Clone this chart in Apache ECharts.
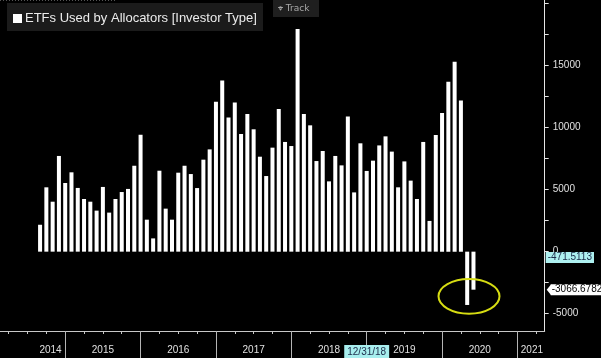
<!DOCTYPE html>
<html><head><meta charset="utf-8">
<script src="https://cdn.jsdelivr.net/npm/echarts@6/dist/echarts.min.js"></script>
<style>html,body{margin:0;padding:0;background:#000;}#c{width:601px;height:358px;}</style>
</head><body><div id="c"></div>
<script>
// ---- data (monthly, plotted at month end) ----
const months = [
 '2014-08','2014-09','2014-10','2014-11','2014-12',
 '2015-01','2015-02','2015-03','2015-04','2015-05','2015-06','2015-07','2015-08','2015-09','2015-10','2015-11','2015-12',
 '2016-01','2016-02','2016-03','2016-04','2016-05','2016-06','2016-07','2016-08','2016-09','2016-10','2016-11','2016-12',
 '2017-01','2017-02','2017-03','2017-04','2017-05','2017-06','2017-07','2017-08','2017-09','2017-10','2017-11','2017-12',
 '2018-01','2018-02','2018-03','2018-04','2018-05','2018-06','2018-07','2018-08','2018-09','2018-10','2018-11','2018-12',
 '2019-01','2019-02','2019-03','2019-04','2019-05','2019-06','2019-07','2019-08','2019-09','2019-10','2019-11','2019-12',
 '2020-01','2020-02','2020-03','2020-04','2020-05'
];
const values = [
 2170, 5190, 4030, 7720, 5540,
 6400, 5140, 4250, 4030, 3310, 5220, 3150, 4250, 4810, 5060, 6930, 9430,
 2580, 1070, 6530, 3470, 2580, 6370, 6930, 6260, 5130, 7420, 8250, 12100,
 13810, 10830, 12040, 9490, 11100, 9870, 7660, 6100, 8390, 11510, 8850, 8520,
 17960, 11100, 10190, 7310, 8120, 5670, 7720, 6960, 10910, 4780, 8740, 6510,
 7340, 8570, 9300, 8070, 5190, 7280, 5730, 4250, 8850, 2480, 9410, 11190,
 13710, 15320, 12200, -4300, -3066.6782
];
// x tick labels (text) and where they sit (month index, 0 = Jan 2014 end)
const xLabelText = ['2014','2015','2016','2017','2018','12/31/18','2019','2020','2021'];
const xLabelAt   = [8.66, 17, 29, 41, 53, 59, 65, 77, 85.3];
const highlightLabel = '12/31/18';
// y tick labels
const yLabelValues = [-5000, 0, 5000, 10000, 15000];
const yTickValues = [-5000, -2500, 0, 2500, 5000, 7500, 10000, 12500, 15000, 17500, 20000];
// value tags on the right axis
const lastValueTag = -471.5113;
const barValueTag = -3066.6782;
// annotation ellipse around the 2020 drop (data coords)
const circleAt = [75.29, -3605];

const title = 'ETFs Used by Allocators [Investor Type]';

// ---- build ----
function monthIndex(s){ const [y,m] = s.split('-').map(Number); return (y-2014)*12 + (m-1); }
const barData = months.map((m,i)=>[monthIndex(m), values[i]]);
const yearBounds = [];
for (let y = 2014; y <= 2020; y++) yearBounds.push((y-2014)*12 + 11);
const quarterTicks = [];
for (let q = 2; q <= 87; q += 3) quarterTicks.push(q);
const labelMap = {};
xLabelAt.forEach((v,i)=>{ labelMap[v.toFixed(2)] = xLabelText[i]; });

const FONT = 'Liberation Sans';
const chart = echarts.init(document.getElementById('c'), null, {renderer:'canvas'});
const XMIN = 0.62, XMAX = 87.34;
const baseGraphics = [
  { id: 'dots', type: 'line', shape: { x1: 0, y1: 0.5, x2: 115, y2: 0.5 }, style: { stroke: '#555', lineDash: [1,2], lineWidth: 1 } },
  { id: 'tbg', type: 'rect', shape: { x: 7, y: 3, width: 256, height: 28 }, style: { fill: '#1b1b1b' } },
  { id: 'tsq', type: 'rect', shape: { x: 13, y: 14, width: 9, height: 9 }, style: { fill: '#ffffff' } },
  { id: 'ttx', type: 'text', x: 25, y: 18.5, style: { text: title, fill: '#ececec', font: '13px "Liberation Sans"', verticalAlign: 'middle' } },
  { id: 'kbg', type: 'rect', shape: { x: 273, y: 0, width: 46, height: 17 }, style: { fill: '#1f1f1f' } },
  { id: 'ktx', type: 'text', x: 278, y: 8.5, style: { text: '⌖ Track', fill: '#a8a8a8', font: '9px "DejaVu Sans"', verticalAlign: 'middle' } }
];
chart.setOption({
  backgroundColor: '#000',
  animation: false,
  grid: { left: 0, right: 56.3, top: 0, bottom: 26.6, containLabel: false },
  xAxis: [{
    type: 'value', min: XMIN, max: XMAX, position: 'bottom',
    axisLine: { show: true, onZero: false, lineStyle: { color: '#c8c8c8', width: 1 } },
    axisTick: { show: true, customValues: quarterTicks, length: 3, lineStyle: { color: '#c8c8c8' } },
    axisLabel: {
      show: true, customValues: xLabelAt, margin: 14,
      color: '#e0e0e0', fontFamily: FONT, fontSize: 10,
      formatter: v => { const t = labelMap[Number(v).toFixed(2)] || ''; return t === highlightLabel ? '{hl|' + t + '}' : t; },
      rich: { hl: { backgroundColor: '#a8eeee', color: '#1b2a48', fontFamily: FONT, fontSize: 10, padding: [2,3,1,3] } }
    },
    splitLine: { show: false }
  }, {
    type: 'value', min: XMIN, max: XMAX, position: 'bottom',
    axisLine: { show: false, onZero: false },
    axisTick: { show: true, customValues: yearBounds, length: 27, lineStyle: { color: '#b4b4b4' } },
    axisLabel: { show: false },
    splitLine: { show: false }
  }],
  yAxis: {
    type: 'value', position: 'right', min: -6400, max: 20300,
    axisLine: { show: true, onZero: false, lineStyle: { color: '#e6e6e6' } },
    axisTick: { show: true, customValues: yTickValues, length: 4, lineStyle: { color: '#e6e6e6' } },
    axisLabel: { show: true, customValues: yLabelValues, margin: 8, color: '#e0e0e0', fontFamily: FONT, fontSize: 10,
      formatter: v => String(v) },
    splitLine: { show: false }
  },
  series: [{
    type: 'bar', xAxisIndex: 0, yAxisIndex: 0,
    data: barData, barWidth: 4,
    itemStyle: { color: '#ffffff' },
    markLine: {
      silent: true, symbol: ['none','none'],
      lineStyle: { color: 'rgba(0,0,0,0)', width: 0 },
      data: [
        { yAxis: lastValueTag, label: { show: true, position: 'end', distance: 1, formatter: String(lastValueTag),
          backgroundColor: '#aef0f0', color: '#1b2a48', fontFamily: FONT, fontSize: 10, padding: [1,2,0,2] } },
        { yAxis: barValueTag, label: { show: true, position: 'end', distance: 6, formatter: String(barValueTag),
          backgroundColor: '#ffffff', color: '#000', fontFamily: FONT, fontSize: 10, padding: [1,2,0,1] } }
      ]
    }
  }],
  graphic: baseGraphics
});

// annotation ellipse and arrow tip of value tag, positioned through the chart's scales
const c = chart.convertToPixel({ xAxisIndex: 0, yAxisIndex: 0 }, circleAt);
const tagY = chart.convertToPixel({ yAxisIndex: 0 }, barValueTag);
const axisX = chart.convertToPixel({ xAxisIndex: 0 }, XMAX);
chart.setOption({ graphic: baseGraphics.concat([
  { id: 'ell', type: 'ellipse', shape: { cx: c[0], cy: c[1], rx: 30.5, ry: 17.3 }, style: { fill: 'none', stroke: '#d6dc12', lineWidth: 2 }, z: 10 },
  { id: 'tip', type: 'polygon', shape: { points: [[axisX + 2, tagY], [axisX + 6.5, tagY - 5.5], [axisX + 6.5, tagY + 5.5]] }, style: { fill: '#ffffff' }, z: 10 }
])});
</script></body></html>
